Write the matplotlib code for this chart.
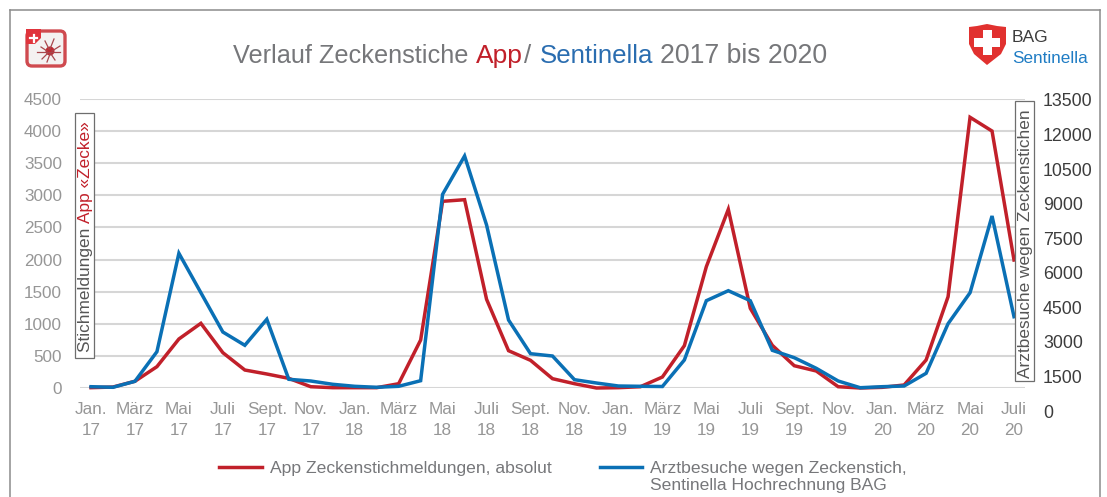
import matplotlib
matplotlib.use("Agg")
import matplotlib.pyplot as plt
from matplotlib.lines import Line2D
from matplotlib.patches import Rectangle, FancyBboxPatch, Polygon, Circle
from matplotlib.transforms import Affine2D
from matplotlib.legend_handler import HandlerLine2D

plt.rcParams['font.family'] = ['Liberation Sans', 'DejaVu Sans']

W, H = 1107, 497
GREY = '#969696'
TXT = '#76777a'
DARK = '#3c3c3c'
BOXTXT = '#555555'
RED = '#c1202a'
BLUE = '#0a70b5'

month_labels = ['Jan.\n17', 'März\n17', 'Mai\n17', 'Juli\n17', 'Sept.\n17', 'Nov.\n17',
                'Jan.\n18', 'März\n18', 'Mai\n18', 'Juli\n18', 'Sept.\n18', 'Nov.\n18',
                'Jan.\n19', 'März\n19', 'Mai\n19', 'Juli\n19', 'Sept.\n19', 'Nov.\n19',
                'Jan.\n20', 'März\n20', 'Mai\n20', 'Juli\n20']
app_reports = [5, 15, 105, 332, 763, 1007, 550, 280, 218, 150, 20, 5,
               5, 5, 67, 747, 2907, 2932, 1381, 581, 431, 145, 67, 0,
               5, 20, 171, 659, 1889, 2782, 1241, 665, 347, 265, 20, 0,
               10, 47, 436, 1422, 4215, 4001, 1993]
doctor_visits = [1055, 1029, 1289, 2574, 6846, 5135, 3429, 2852, 3981, 1376, 1302, 1159,
                 1072, 1029, 1072, 1315, 9407, 11069, 8074, 3950, 2487, 2387, 1359, 1215,
                 1085, 1072, 1063, 2214, 4788, 5222, 4788, 2635, 2314, 1854, 1302, 1011,
                 1055, 1085, 1636, 3790, 5135, 8465, 4093]
left_ticks = [0, 500, 1000, 1500, 2000, 2500, 3000, 3500, 4000, 4500]
right_ticks = [0, 1500, 3000, 4500, 6000, 7500, 9000, 10500, 12000, 13500]

fig = plt.figure(figsize=(W / 100, H / 100), dpi=100, facecolor='white')
px = Affine2D().scale(1 / W, -1 / H).translate(0, 1) + fig.transFigure

AX_L, AX_R, AX_T, AX_B = 80, 1025, 99, 388
ax = fig.add_axes([AX_L / W, 1 - AX_B / H, (AX_R - AX_L) / W, (AX_B - AX_T) / H])
ax.set_facecolor('none')
ax.set_xlim(-0.5, 42.5)
ax.set_yticks(left_ticks)
ax.set_ylim(0, 4500)
ax.set_xticks(range(0, 43, 2))
ax.set_xticklabels(month_labels, linespacing=1.5)
ax.grid(axis='y', color='#d6d6d6', lw=1.5, zorder=0)
ax.set_axisbelow(True)
for s in ax.spines.values():
    s.set_visible(False)
ax.tick_params(axis='y', length=0, pad=13, labelsize=12.3, labelcolor=GREY)
ax.tick_params(axis='x', length=0, pad=10, labelsize=12.3, labelcolor=GREY)

# right axis: its scale is offset against the left one (its 0 sits below the baseline)
R_T, R_B = 100, 411
ax2 = fig.add_axes([AX_L / W, 1 - R_B / H, (AX_R - AX_L) / W, (R_B - R_T) / H])
ax2.set_facecolor('none')
ax2.set_xlim(-0.5, 42.5)
ax2.set_yticks(right_ticks)
ax2.set_ylim(0, 13500)
ax2.set_xticks([])
ax2.yaxis.tick_right()
for s in ax2.spines.values():
    s.set_visible(False)
ax2.tick_params(axis='y', length=0, pad=13, labelsize=12.8, labelcolor=DARK)

months = list(range(len(app_reports)))
line_app, = ax.plot(months, app_reports, color=RED, lw=2.5, solid_joinstyle='miter', zorder=3,
                    clip_on=False)
line_doc, = ax2.plot(months, doctor_visits, color=BLUE, lw=2.5, solid_joinstyle='miter', zorder=4)
ax.set_zorder(1)
ax2.set_zorder(2)

# frame
for xs, ys in [((9.5, 9.5), (9.5, 497)), ((9.5, 1100), (9.5, 9.5)), ((1100, 1100), (9.5, 497))]:
    fig.add_artist(Line2D(xs, ys, transform=px, color='#8c8c8c', lw=1.1))


def chain(x, y, parts, size, rotation=0):
    """Multi-coloured text, laid out piece after piece."""
    r = fig.canvas.get_renderer()
    for s, c in parts:
        t = fig.text(x, y, s.replace(' ', '\u00a0'), transform=px, color=c, fontsize=size,
                     rotation=rotation, rotation_mode='anchor', ha='left', va='baseline', zorder=12)
        bb = t.get_window_extent(r)
        if rotation == 90:
            y -= bb.height
        else:
            x += bb.width


# title pieces, each at its own start
for x0, piece, col, sz in [(233, 'Verlauf Zeckenstiche', TXT, 18.2), (476, 'App', RED, 19.0),
                           (524, '/', TXT, 18.6), (540, 'Sentinella', '#2a6db0', 18.6),
                           (660, '2017 bis 2020', TXT, 19.2)]:
    chain(x0, 63, [(piece, col)], sz)

# axis captions in boxes
fig.add_artist(Rectangle((75, 113), 19, 245, transform=px, fc='white', ec='#6e6e6e', lw=0.9, zorder=11))
chain(90, 352, [('Stichmeldungen ', BOXTXT), ('App «Zecke»', RED)], 12.4, rotation=90)
fig.add_artist(Rectangle((1015, 101), 19, 280, transform=px, fc='white', ec='#6e6e6e', lw=0.9, zorder=11))
chain(1030, 378, [('Arztbesuche wegen Zeckenstichen', BOXTXT)], 12.4, rotation=90)


class RaisedLine(HandlerLine2D):
    """Line handle aligned with the first row of a two-row label."""
    def create_artists(self, legend, orig, xd, yd, w, h, fontsize, trans):
        arts = super().create_artists(legend, orig, xd, yd, w, h, fontsize, trans)
        for a in arts:
            a.set_ydata([v + 7.0 for v in a.get_ydata()])
        return arts


# legend
fig.legend(handles=[line_app], labels=['App Zeckenstichmeldungen, absolut'],
           loc='center left', bbox_to_anchor=(219, 468), bbox_transform=px,
           frameon=False, fontsize=12.6, labelcolor=TXT, borderpad=0, borderaxespad=0,
           handlelength=2.46, handletextpad=0.46)
fig.legend(handles=[line_doc],
           labels=['Arztbesuche wegen Zeckenstich,\nSentinella Hochrechnung BAG'],
           loc='center left', bbox_to_anchor=(600, 477), bbox_transform=px,
           frameon=False, fontsize=12.6, labelcolor=TXT, borderpad=0, borderaxespad=0,
           handlelength=2.4, handletextpad=0.46, labelspacing=0,
           handler_map={line_doc: RaisedLine()})

# app icon
fig.add_artist(FancyBboxPatch((27, 31), 38, 35, boxstyle='round,pad=0,rounding_size=5', transform=px,
                              fc='#f4f1f1', ec='#cf4a4f', lw=2.4))
fig.add_artist(Polygon([(26, 29), (41, 29), (41, 38), (35, 44), (26, 44)], closed=True, transform=px,
                       fc='#e0343c', ec='none'))
fig.add_artist(Line2D((30, 37), (38, 38), transform=px, color='white', lw=1.6))
fig.add_artist(Line2D((33.5, 33.5), (34.5, 41.5), transform=px, color='white', lw=1.6))
for a, b in [((37, 60), (52, 52)), ((41, 47), (47, 51)), ((42, 48), (59, 53)), ((60, 52), (46, 51)),
             ((45, 49), (41, 49)), ((54, 50), (39, 49)), ((47, 50), (62, 54)), ((55, 51), (60, 54))]:
    fig.add_artist(Line2D(a, b, transform=px, color='#a8474d', lw=0.9))
fig.add_artist(Circle((50, 51), 4.5, transform=px, fc='#c02a32', ec='none'))

# shield
fig.add_artist(Polygon([(969, 27), (977, 26), (987, 24), (997, 26), (1006, 27), (1006, 44), (1001, 54),
                        (987, 65), (974, 54), (969, 44)], closed=True, transform=px,
                       fc='#e1312f', ec='none'))
fig.add_artist(Rectangle((983, 30), 9, 25, transform=px, fc='white', ec='none', zorder=3))
fig.add_artist(Rectangle((974, 37.5), 26, 9, transform=px, fc='white', ec='none', zorder=3))
fig.text(1012, 41.5, 'BAG', transform=px, color=DARK, fontsize=12.6, va='baseline')
fig.text(1012, 63, 'Sentinella', transform=px, color='#1f7cc4', fontsize=12.3, va='baseline')

fig.savefig('out.png', dpi=100, facecolor='white')
